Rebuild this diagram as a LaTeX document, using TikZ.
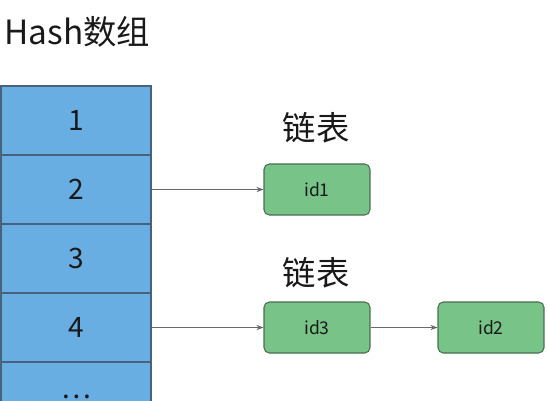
\documentclass[tikz,border=0pt]{standalone}
\usepackage{fontspec}
\setmainfont{Noto Sans CJK SC}
\usetikzlibrary{arrows.meta}
\definecolor{cellblue}{RGB}{104,174,227}
\definecolor{cellline}{RGB}{72,98,125}
\definecolor{itemgreen}{RGB}{120,195,135}
\definecolor{itemline}{RGB}{72,110,80}
\definecolor{linkgray}{RGB}{105,105,105}
\begin{document}
\begin{tikzpicture}[
	x=0.02cm, y=-0.02cm,
	% Define the styles for the nodes
	cell/.style={rectangle, draw=cellline, fill=cellblue, line width=0.7pt,
		minimum width=3cm, minimum height=1.38cm, inner sep=0pt,
		font=\fontsize{16}{18}\selectfont, text=black!90},
	item/.style={rectangle, rounded corners=3pt, draw=itemline, fill=itemgreen,
		line width=0.6pt, minimum width=2.12cm, minimum height=1.02cm,
		inner sep=0pt, font=\fontsize{10}{12}\selectfont, text=black!90},
	link/.style={draw=linkgray, line width=0.6pt, -{Stealth[length=4pt,width=3pt]}},
	caption/.style={inner sep=0pt, font=\fontsize{19}{22}\selectfont, text=black!90}
	]
	
	\useasboundingbox (0,0) rectangle (547,400);
	\clip (0,0) rectangle (547,400);
	
	% --- TITLE ---
	\node[caption, anchor=west] (title) at (4,32) {Hash数组};
	
	% --- ARRAY ---
	\foreach \i/\t in {1/1, 2/2, 3/3, 4/4, 5/{\ldots}} {
		\node[cell] (c\i) at (76, 86+69*\i-34.5) {\t};
	}
	
	% --- LISTS ---
	\node[caption] (list1) at (316,128) {链表};
	\node[caption] (list2) at (316,273) {链表};
	
	\node[item] (id1) at (317,189.5) {id1};
	\node[item] (id3) at (317,327.5) {id3};
	\node[item] (id2) at (491,327.5) {id2};
	
	% --- LINKS ---
	\draw[link] (c2.east) -- (id1.west);
	\draw[link] (c4.east) -- (id3.west);
	\draw[link] (id3) -- (id2);
	
\end{tikzpicture}
\end{document}
